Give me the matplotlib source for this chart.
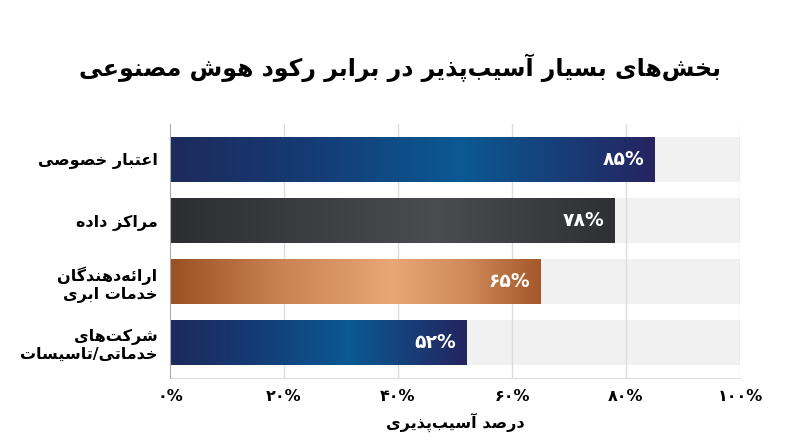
import matplotlib
matplotlib.use("Agg")
import matplotlib.pyplot as plt
import numpy as np
from matplotlib.colors import LinearSegmentedColormap

# ---------------- data ----------------
title = "بخش‌های بسیار آسیب‌پذیر در برابر رکود هوش مصنوعی"
categories = ["اعتبار خصوصی", "مراکز داده", "ارائه‌دهندگان\nخدمات ابری", "شرکت‌های\nخدماتی/تاسیسات"]
values = [85, 78, 65, 52]
value_labels = ["۸۵%", "۷۸%", "۶۵%", "۵۲%"]
xticks = [0, 20, 40, 60, 80, 100]
xtick_labels = ["۰%", "۲۰%", "۴۰%", "۶۰%", "۸۰%", "۱۰۰%"]
xlabel = "درصد آسیب‌پذیری"

bar_gradients = [
    ["#1d2a5c", "#153c76", "#0b5993", "#173f79", "#25245f"],
    ["#2c2e31", "#3c3d40", "#4b4c4f", "#3d3e41", "#2f3034"],
    ["#9a5224", "#c98252", "#e9a677", "#d08a5a", "#a5582a"],
    ["#1d2a5c", "#153c76", "#0b5993", "#173f79", "#25245f"],
]

# ------------- simple Arabic/Persian shaping -------------
FORMS = {
    '\u0627': ('\uFE8D', '\uFE8E', None, None),
    '\u0622': ('\uFE81', '\uFE82', None, None),
    '\u0628': ('\uFE8F', '\uFE90', '\uFE91', '\uFE92'),
    '\u062A': ('\uFE95', '\uFE96', '\uFE97', '\uFE98'),
    '\u062B': ('\uFE99', '\uFE9A', '\uFE9B', '\uFE9C'),
    '\u062C': ('\uFE9D', '\uFE9E', '\uFE9F', '\uFEA0'),
    '\u062D': ('\uFEA1', '\uFEA2', '\uFEA3', '\uFEA4'),
    '\u062E': ('\uFEA5', '\uFEA6', '\uFEA7', '\uFEA8'),
    '\u062F': ('\uFEA9', '\uFEAA', None, None),
    '\u0630': ('\uFEAB', '\uFEAC', None, None),
    '\u0631': ('\uFEAD', '\uFEAE', None, None),
    '\u0632': ('\uFEAF', '\uFEB0', None, None),
    '\u0633': ('\uFEB1', '\uFEB2', '\uFEB3', '\uFEB4'),
    '\u0634': ('\uFEB5', '\uFEB6', '\uFEB7', '\uFEB8'),
    '\u0635': ('\uFEB9', '\uFEBA', '\uFEBB', '\uFEBC'),
    '\u0636': ('\uFEBD', '\uFEBE', '\uFEBF', '\uFEC0'),
    '\u0637': ('\uFEC1', '\uFEC2', '\uFEC3', '\uFEC4'),
    '\u0638': ('\uFEC5', '\uFEC6', '\uFEC7', '\uFEC8'),
    '\u0639': ('\uFEC9', '\uFECA', '\uFECB', '\uFECC'),
    '\u063A': ('\uFECD', '\uFECE', '\uFECF', '\uFED0'),
    '\u0641': ('\uFED1', '\uFED2', '\uFED3', '\uFED4'),
    '\u0642': ('\uFED5', '\uFED6', '\uFED7', '\uFED8'),
    '\u0643': ('\uFED9', '\uFEDA', '\uFEDB', '\uFEDC'),
    '\u0644': ('\uFEDD', '\uFEDE', '\uFEDF', '\uFEE0'),
    '\u0645': ('\uFEE1', '\uFEE2', '\uFEE3', '\uFEE4'),
    '\u0646': ('\uFEE5', '\uFEE6', '\uFEE7', '\uFEE8'),
    '\u0647': ('\uFEE9', '\uFEEA', '\uFEEB', '\uFEEC'),
    '\u0648': ('\uFEED', '\uFEEE', None, None),
    '\u064A': ('\uFEF1', '\uFEF2', '\uFEF3', '\uFEF4'),
    '\u0626': ('\uFE89', '\uFE8A', '\uFE8B', '\uFE8C'),
    '\u067E': ('\uFB56', '\uFB57', '\uFB58', '\uFB59'),
    '\u0686': ('\uFB7A', '\uFB7B', '\uFB7C', '\uFB7D'),
    '\u0698': ('\uFB8A', '\uFB8B', None, None),
    '\u06A9': ('\uFB8E', '\uFB8F', '\uFB90', '\uFB91'),
    '\u06AF': ('\uFB92', '\uFB93', '\uFB94', '\uFB95'),
    '\u06CC': ('\uFBFC', '\uFBFD', '\uFBFE', '\uFBFF'),
}


def dual(c):
    return c in FORMS and FORMS[c][2] is not None


def joins(c):
    return c in FORMS


def shape_line(s):
    out = []
    n = len(s)
    i = 0
    while i < n:
        c = s[i]
        if c not in FORMS:
            if c != '\u200c':
                out.append(c)
            i += 1
            continue
        prev = s[i - 1] if i > 0 else ''
        jp = dual(prev)
        if c == '\u0644' and i + 1 < n and s[i + 1] in ('\u0627', '\u0622'):
            if s[i + 1] == '\u0627':
                out.append('\uFEFC' if jp else '\uFEFB')
            else:
                out.append('\uFEF6' if jp else '\uFEF5')
            i += 2
            continue
        nxt = s[i + 1] if i + 1 < n else ''
        jn = dual(c) and joins(nxt)
        iso, fin, ini, med = FORMS[c]
        if jp and jn:
            out.append(med)
        elif jp:
            out.append(fin)
        elif jn:
            out.append(ini)
        else:
            out.append(iso)
        i += 1
    return ''.join(reversed(out))


def fa(s):
    return '\n'.join(shape_line(l) for l in s.split('\n'))


# ---------------- plot ----------------
plt.rcParams['font.family'] = ['DejaVu Sans']
fig = plt.figure(figsize=(8, 4.47), dpi=100)
ax = fig.add_axes([0.2125, 0.1544, 0.7125, 0.5682])

ypos = np.arange(len(categories))
h = 0.73

ax.barh(ypos, [100] * len(ypos), height=h, color="#f1f1f1", zorder=1, linewidth=0)
for t in xticks[1:]:
    ax.axvline(t, color="#dcdcdc", linewidth=1, zorder=1.5)

for i, (v, cols) in enumerate(zip(values, bar_gradients)):
    cmap = LinearSegmentedColormap.from_list(
        f"g{i}", [(0, cols[0]), (0.3, cols[1]), (0.6, cols[2]), (0.8, cols[3]), (1, cols[4])])
    grad = np.linspace(0, 1, 256).reshape(1, -1)
    ax.imshow(grad, cmap=cmap, extent=(0, v, i + h / 2, i - h / 2), aspect='auto',
              interpolation='bicubic', zorder=2)
    ax.text(v - 1.8, i, value_labels[i], ha='right', va='center', color='white',
            fontsize=13.5, fontweight='bold', zorder=3)

ax.set_xlim(0, 100)
ax.set_ylim(3.58, -0.58)
ax.set_yticks(ypos)
ax.set_yticklabels([fa(c) for c in categories], fontsize=11.5, fontweight='bold',
                   multialignment='right')
ax.set_xticks(xticks)
ax.set_xticklabels(xtick_labels, fontsize=11.5, fontweight='bold')
ax.tick_params(axis='x', length=0, pad=8)
ax.tick_params(axis='y', length=0, pad=9)
ax.set_xlabel(fa(xlabel), fontsize=11.5, fontweight='bold', labelpad=6)

for s in ['top', 'right']:
    ax.spines[s].set_visible(False)
ax.spines['left'].set_color('#aaaaaa')
ax.spines['bottom'].set_color('#dcdcdc')
ax.spines['left'].set_zorder(4)

fig.text(0.5, 0.848, fa(title), ha='center', va='center', fontsize=17, fontweight='bold')

fig.savefig("out.png", dpi=100, facecolor='white')
